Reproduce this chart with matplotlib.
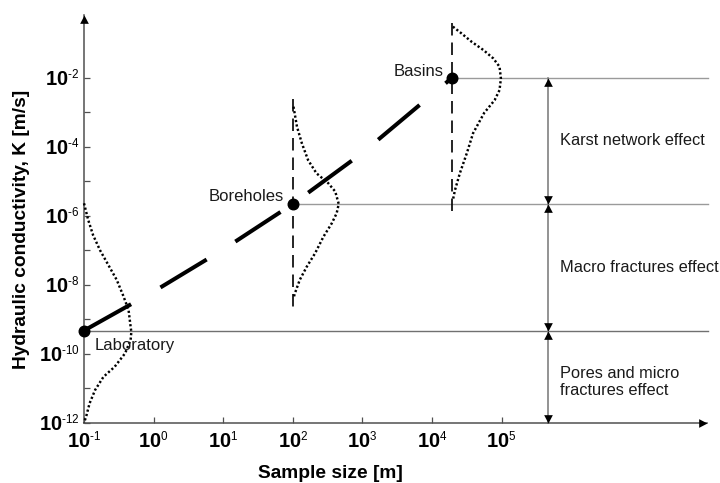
import numpy as np
import matplotlib
matplotlib.use('Agg')
import matplotlib.pyplot as plt
import matplotlib._mathtext as _mt
from matplotlib.path import Path
from matplotlib.ticker import FixedLocator, FixedFormatter, NullLocator

_mt.SHRINK_FACTOR = 0.58

plt.rcParams['font.family'] = ['Liberation Sans', 'DejaVu Sans']
plt.rcParams['mathtext.fontset'] = 'custom'
plt.rcParams['mathtext.rm'] = 'Liberation Sans'
plt.rcParams['mathtext.bf'] = 'Liberation Sans:bold'
plt.rcParams['mathtext.it'] = 'Liberation Sans:italic'

# ---------------- data (log10 values) ----------------
site_names = ['Laboratory', 'Boreholes', 'Basins']
site_size_exp = [-1.0, 2.0, 4.29]
site_K_exp = [-9.33, -5.66, -2.0]

trend_size_exp = [-1.0, 0.0, 1.0, 2.0, 3.0, 4.29]
trend_K_exp = [-9.33, -8.20, -6.98, -5.66, -4.18, -2.0]

lab_dist_size_exp = [-1.0, -0.94, -0.87, -0.77, -0.65, -0.53, -0.44, -0.36, -0.33,
                     -0.32, -0.33, -0.41, -0.56, -0.72, -0.84, -0.92, -0.97, -1.0]
lab_dist_K_exp = [-5.64, -6.12, -6.56, -7.0, -7.43, -7.86, -8.30, -8.73, -9.22,
                  -9.37, -9.60, -9.99, -10.38, -10.67, -11.05, -11.44, -11.83, -12.0]

bore_dist_size_exp = [2.01, 2.06, 2.13, 2.22, 2.34, 2.51, 2.61, 2.66, 2.63, 2.56,
                      2.44, 2.32, 2.20, 2.10, 2.03, 2.01]
bore_dist_K_exp = [-2.84, -3.42, -3.90, -4.39, -4.77, -5.06, -5.30, -5.66, -5.93,
                   -6.22, -6.61, -7.09, -7.48, -7.86, -8.25, -8.39]

basin_dist_size_exp = [4.30, 4.42, 4.57, 4.74, 4.88, 4.97, 4.99, 4.97, 4.90, 4.75,
                       4.59, 4.50, 4.40, 4.33, 4.30]
basin_dist_K_exp = [-0.52, -0.71, -0.96, -1.20, -1.44, -1.68, -2.02, -2.36, -2.65,
                    -3.02, -3.61, -4.19, -4.77, -5.26, -5.55]

bore_range_K_exp = [-2.62, -8.64]
basin_range_K_exp = [-0.42, -5.98]

effect_labels = ['Karst network effect', 'Macro fractures effect',
                 'Pores and micro\nfractures effect']
effect_bounds_exp = [(-2.0, -5.66), (-5.66, -9.33), (-9.33, -12.0)]
effect_arrow_size_exp = 5.66

x_tick_exp = [-1, 0, 1, 2, 3, 4, 5]
y_tick_exp = list(range(-12, -1))
y_label_exp = [-12, -10, -8, -6, -4, -2]

x_label = 'Sample size [m]'
y_label = 'Hydraulic conductivity, K [m/s]'


def pow_label(e):
    s = str(e).replace('-', '\u2010')
    return r'$\mathbf{10}^{%s}$' % s


# ---------------- figure ----------------
W, H = 720, 483
fig = plt.figure(figsize=(W / 100, H / 100), dpi=100)
ax = fig.add_axes([84 / W, 60.3 / H, (707 - 84) / W, (422.7 - 15) / H])
ax.set_xscale('log')
ax.set_yscale('log')
x_max_exp = -1 + (707 - 84) / 69.6
y_max_exp = -12 + (422.7 - 15) / 34.5
ax.set_xlim(10 ** -1, 10 ** x_max_exp)
ax.set_ylim(1e-12, 10 ** y_max_exp)

axis_col = '#505050'
for s in ['top', 'right']:
    ax.spines[s].set_visible(False)
for s in ['left', 'bottom']:
    ax.spines[s].set_color(axis_col)
    ax.spines[s].set_linewidth(1.1)

ax.xaxis.set_major_locator(FixedLocator([10.0 ** e for e in x_tick_exp]))
ax.xaxis.set_major_formatter(FixedFormatter([pow_label(e) for e in x_tick_exp]))
ax.xaxis.set_minor_locator(NullLocator())
ax.yaxis.set_major_locator(FixedLocator([10.0 ** e for e in y_tick_exp]))
ax.yaxis.set_major_formatter(FixedFormatter(
    [pow_label(e) if e in y_label_exp else '' for e in y_tick_exp]))
ax.yaxis.set_minor_locator(NullLocator())
ax.tick_params(axis='both', direction='in', length=4, width=0.9, color=axis_col,
               labelsize=14.5, labelcolor='black')
ax.tick_params(axis='x', pad=6)
ax.tick_params(axis='y', pad=3)

# arrow heads with tip at the origin
up_tri = Path([(0, 0), (-0.52, -1), (0.52, -1), (0, 0)])
down_tri = Path([(0, 0), (-0.52, 1), (0.52, 1), (0, 0)])
right_tri = Path([(0, 0), (-1, 0.52), (-1, -0.52), (0, 0)])
ax.plot([0], [1], marker=up_tri, ms=12, mew=0, color='black',
        transform=ax.transAxes, clip_on=False, zorder=6)
ax.plot([1], [0], marker=right_tri, ms=12, mew=0, color='black',
        transform=ax.transAxes, clip_on=False, zorder=6)

line_end = 10 ** (x_max_exp + 0.01)

# horizontal reference lines
h_cols = ['#707070', '#9a9a9a', '#9a9a9a']
for sx, sk, c in zip(site_size_exp, site_K_exp, h_cols):
    ax.plot([10 ** sx, line_end], [10 ** sk, 10 ** sk], color=c, lw=1.0,
            clip_on=False, zorder=2)

# trend line
ax.plot(10 ** np.array(trend_size_exp), 10 ** np.array(trend_K_exp), color='black',
        lw=2.9, dashes=(13.4, 8.4), dash_capstyle='butt', zorder=4, clip_on=False)

# distributions
for xs, ks in [(lab_dist_size_exp, lab_dist_K_exp),
               (bore_dist_size_exp, bore_dist_K_exp),
               (basin_dist_size_exp, basin_dist_K_exp)]:
    ax.plot(10 ** np.array(xs), 10 ** np.array(ks), color='black', lw=1.75,
            dashes=(0.9, 0.95), zorder=3, clip_on=False)

# vertical dashed ranges
for sx, rng in [(site_size_exp[1], bore_range_K_exp), (site_size_exp[2], basin_range_K_exp)]:
    ax.plot([10 ** sx, 10 ** sx], [10 ** rng[0], 10 ** rng[1]], color='black',
            lw=1.2, dashes=(7.5, 4.2), dash_capstyle='butt', zorder=3)

# points
ax.plot(10 ** np.array(site_size_exp), 10 ** np.array(site_K_exp), 'o',
        color='black', ms=7.6, zorder=5, clip_on=False)

# site labels
ax.annotate(site_names[0], (10 ** site_size_exp[0], 10 ** site_K_exp[0]),
            xytext=(10.5, -14.5), textcoords='offset pixels', ha='left', va='center',
            fontsize=12, color='#1a1a1a')
ax.annotate(site_names[1], (10 ** site_size_exp[1], 10 ** site_K_exp[1]),
            xytext=(-8.5, 7), textcoords='offset pixels', ha='right', va='center',
            fontsize=12, color='#1a1a1a')
ax.annotate(site_names[2], (10 ** site_size_exp[2], 10 ** site_K_exp[2]),
            xytext=(-9, 6), textcoords='offset pixels', ha='right', va='center',
            fontsize=12, color='#1a1a1a')

# effect arrows and labels
xa = 10 ** effect_arrow_size_exp
label_dy = [0, 0, -5]
for (top, bot), lab, dy in zip(effect_bounds_exp, effect_labels, label_dy):
    ax.plot([xa, xa], [10 ** top, 10 ** bot], color='#808080', lw=1.2,
            zorder=2, clip_on=False)
    ax.plot([xa], [10 ** top], marker=up_tri, ms=12, mew=0, color='black',
            zorder=6, clip_on=False)
    ax.plot([xa], [10 ** bot], marker=down_tri, ms=12, mew=0, color='black',
            zorder=6, clip_on=False)
    ym = 10 ** ((top + bot) / 2)
    ax.annotate(lab, (xa, ym), xytext=(12.5, dy), textcoords='offset pixels',
                ha='left', va='center', fontsize=11.8, color='#1a1a1a',
                linespacing=1.15)

fig.text(330.5 / W, 1 - 473 / H, x_label, ha='center', va='center',
         fontsize=13.8, fontweight='bold')
fig.text(21.7 / W, 1 - 229 / H, y_label, ha='center', va='center',
         fontsize=13.8, fontweight='bold', rotation=90)

fig.savefig('out.png', dpi=100)
